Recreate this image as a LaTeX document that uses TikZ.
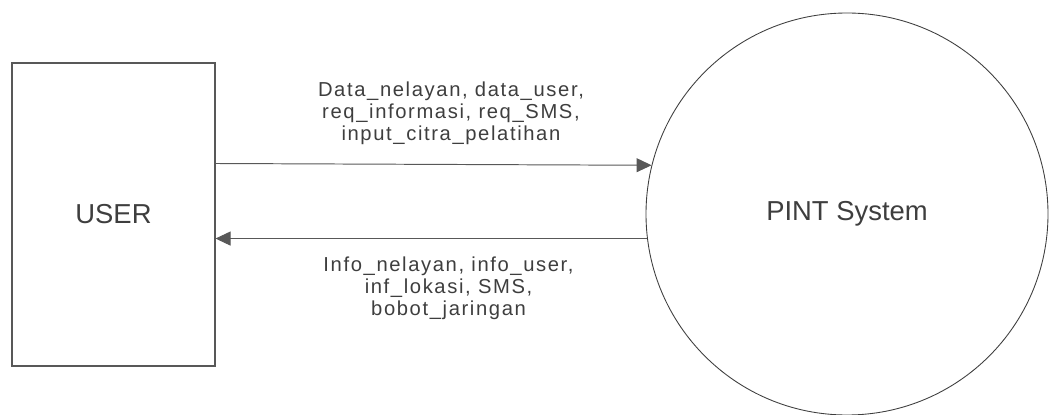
\documentclass[tikz,border=0pt]{standalone}
\usepackage{fontspec}
\setmainfont{Liberation Sans}
\newfontfamily\flowfont[LetterSpace=8]{Liberation Sans}
\usepackage{xcolor}
\definecolor{lineGray}{RGB}{88, 88, 88}
\definecolor{textGray}{RGB}{62, 62, 62}
\usetikzlibrary{positioning,calc,arrows.meta}

\begin{document}
\begin{tikzpicture}[
        flowArrow/.style={draw=lineGray,line width=0.55pt,-{Triangle[length=0.3cm,width=0.28cm]}},
        flowLabel/.style={text=textGray,align=center,inner sep=0pt,
              font=\flowfont\fontsize{11.5}{12.6}\selectfont},
        mainLabel/.style={text=textGray,font=\fontsize{15.6}{18}\selectfont}
    ]
        \useasboundingbox (0,0) rectangle (20.98,8.28);

        % External entity
        \node[mainLabel,draw=lineGray,line width=0.6pt,
              minimum width=4.06cm,minimum height=6.06cm,inner sep=0pt] (user) at (2.27,3.99) {USER};

        % Process
        \node[mainLabel,circle,draw=lineGray!70!black,line width=0.5pt,
              minimum size=8.04cm,inner sep=0pt] (pint) at (16.94,4.0) {PINT System};

        % Data flows
        \draw[flowArrow] ([yshift=1.02cm]user.east) -- node[flowLabel,pos=0.54,above=0.38cm] {
            Data\_nelayan, data\_user,\\
            req\_informasi, req\_SMS,\\
            input\_citra\_pelatihan
        } (pint.166);

        \draw[flowArrow] (pint.187) -- node[flowLabel,pos=0.46,below=0.36cm] {
            Info\_nelayan, info\_user,\\
            inf\_lokasi, SMS,\\
            bobot\_jaringan
        } (user.east |- pint.187);
    \end{tikzpicture}
\end{document}
